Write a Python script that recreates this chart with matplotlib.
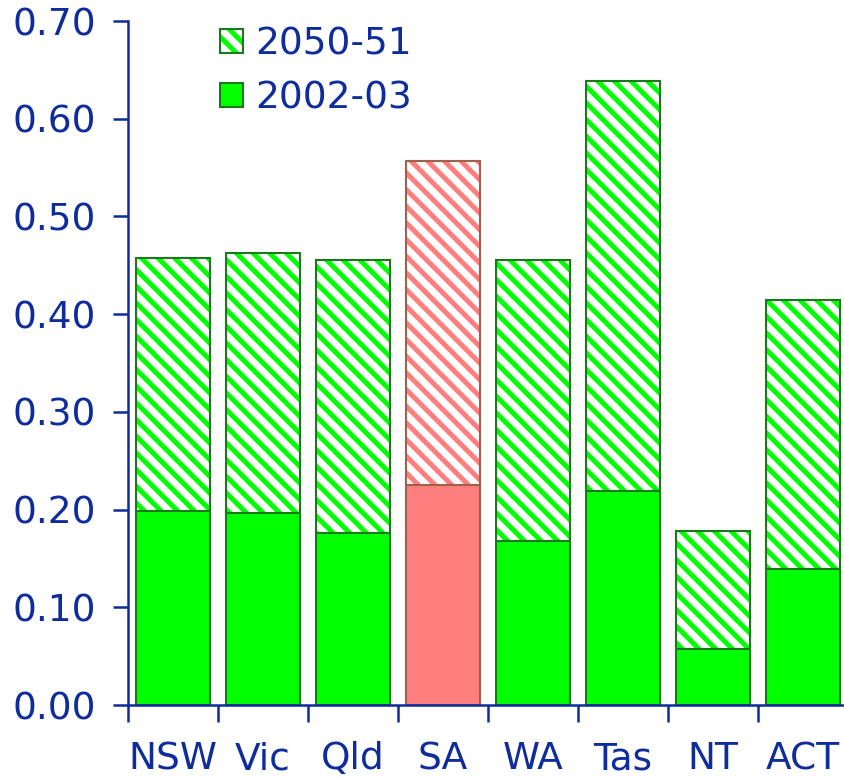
import numpy as np
import matplotlib
matplotlib.use('Agg')
import matplotlib.pyplot as plt
from matplotlib.patches import Patch
from matplotlib.legend_handler import HandlerTuple

# values
states = ['NSW', 'Vic', 'Qld', 'SA', 'WA', 'Tas', 'NT', 'ACT']
val_2002 = [0.199, 0.197, 0.176, 0.225, 0.168, 0.219, 0.057, 0.139]
val_2050 = [0.457, 0.463, 0.455, 0.557, 0.455, 0.639, 0.178, 0.414]
yticks = [0.0, 0.1, 0.2, 0.3, 0.4, 0.5, 0.6, 0.7]

navy = '#0f2c9c'
green = '#00ff00'
green_edge = '#1a7a1a'
red = '#ff7f7f'
red_edge = '#a0604a'

plt.rcParams['hatch.linewidth'] = 3.6
plt.rcParams['font.family'] = 'DejaVu Sans'

fig = plt.figure(figsize=(8.44, 7.78), dpi=100)
ax = fig.add_axes([128 / 844, 73 / 778, 720 / 844, 684 / 778])

x = np.arange(len(states))
fills = [red if s == 'SA' else green for s in states]
edges = [red_edge if s == 'SA' else green_edge for s in states]
width = 0.83

# hatched upper part (2050-51)
tops = np.array(val_2050) - np.array(val_2002)
ax.bar(x, tops, width, bottom=val_2002, color='white', edgecolor=fills,
       hatch='\\\\', linewidth=0)
ax.bar(x, tops, width, bottom=val_2002, fill=False, edgecolor=edges, linewidth=1.5)
# solid lower part (2002-03)
ax.bar(x, val_2002, width, color=fills, edgecolor=edges, linewidth=1.5)

ax.set_xlim(-0.5, 7.5)
ax.set_ylim(0, 0.70)
ax.set_yticks(yticks)
ax.set_yticklabels([f'{v:.2f}' for v in yticks])
ax.set_xticks(np.arange(len(states) + 1) - 0.5)
ax.set_xticklabels([])
ax.set_xticks(x, minor=True)
ax.set_xticklabels(states, minor=True)

for side in ['top', 'right']:
    ax.spines[side].set_visible(False)
for side in ['left', 'bottom']:
    ax.spines[side].set_color(navy)
    ax.spines[side].set_linewidth(1.8)

ax.tick_params(axis='y', which='major', direction='out', length=11, width=1.8,
               color=navy, labelcolor=navy, labelsize=27, pad=12)
ax.tick_params(axis='x', which='major', direction='out', length=12, width=1.8,
               color=navy)
ax.tick_params(axis='x', which='minor', length=0, labelcolor=navy,
               labelsize=27, pad=26)

hatch_handle = (Patch(facecolor='white', edgecolor=green, hatch='\\\\', linewidth=0),
                Patch(fill=False, edgecolor=green_edge, linewidth=1.5))
solid_handle = Patch(facecolor=green, edgecolor=green_edge, linewidth=1.5)
leg = ax.legend([hatch_handle, solid_handle], ['2050-51', '2002-03'],
                handler_map={tuple: HandlerTuple(ndivide=1)},
                loc='upper left', bbox_to_anchor=(0.081, 1.042), frameon=False,
                fontsize=27, handlelength=0.6, handleheight=0.6,
                handletextpad=0.35, labelspacing=0.49)
for t in leg.get_texts():
    t.set_color(navy)

fig.savefig('out.png', dpi=100)
plt.close(fig)
